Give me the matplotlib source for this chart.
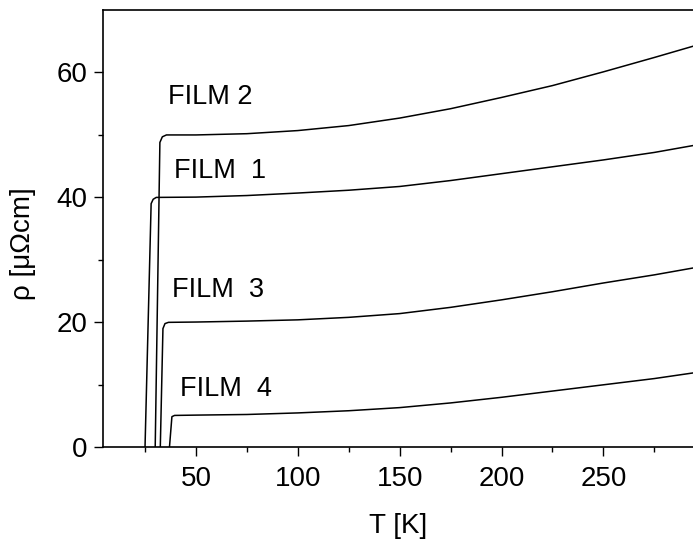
import matplotlib
matplotlib.use("Agg")
import matplotlib.pyplot as plt

plt.rcParams['font.family'] = ['Liberation Sans', 'DejaVu Sans']

# temperature [K] and resistivity [uOhm cm]
t_film1 = [25.0, 28.0, 29.0, 30.5, 50, 75, 100, 125, 150, 175, 200, 225, 250, 275, 294]
rho_film1 = [0, 39.0, 39.7, 40.0, 40.05, 40.3, 40.7, 41.15, 41.75, 42.7, 43.8, 44.9, 46.0, 47.2, 48.3]

t_film2 = [30.0, 32.3, 33.5, 35.5, 50, 75, 100, 125, 150, 175, 200, 225, 250, 275, 294]
rho_film2 = [0, 48.8, 49.7, 50.0, 50.0, 50.2, 50.7, 51.5, 52.7, 54.2, 56.0, 57.9, 60.1, 62.4, 64.2]

t_film3 = [32.5, 33.8, 34.8, 36.5, 50, 75, 100, 125, 150, 175, 200, 225, 250, 275, 294]
rho_film3 = [0, 19.0, 19.8, 20.0, 20.05, 20.2, 20.4, 20.8, 21.4, 22.4, 23.6, 24.9, 26.3, 27.6, 28.7]

t_film4 = [37.0, 38.2, 39.5, 50, 75, 100, 125, 150, 175, 200, 225, 250, 275, 294]
rho_film4 = [0, 4.9, 5.1, 5.15, 5.25, 5.5, 5.85, 6.35, 7.1, 8.0, 9.0, 10.0, 11.0, 11.9]

labels = ['FILM 2', 'FILM  1', 'FILM  3', 'FILM  4']
label_x = [36.5, 39.0, 38.2, 42.4]
label_y = [56.0, 44.3, 25.1, 9.3]

x_major = [50, 100, 150, 200, 250]
x_minor = [25, 75, 125, 175, 225, 275]
y_major = [0, 20, 40, 60]
y_minor = [10, 30, 50]

fig = plt.figure(figsize=(6.93, 5.47), dpi=100)
ax = fig.add_axes([0.149, 0.1823, 0.851, 0.7994])

for t, r in [(t_film1, rho_film1), (t_film2, rho_film2), (t_film3, rho_film3), (t_film4, rho_film4)]:
    ax.plot(t, r, color='black', lw=1.1)

for s, x, y in zip(labels, label_x, label_y):
    ax.text(x, y, s, fontsize=19.5, va='center', ha='left')

ax.set_xlim(4.5, 294)
ax.set_ylim(0, 70)
ax.set_xticks(x_major)
ax.set_xticks(x_minor, minor=True)
ax.set_yticks(y_major)
ax.set_yticks(y_minor, minor=True)

ax.tick_params(which='major', direction='out', length=6.5, width=1, labelsize=20, pad=5)
ax.tick_params(axis='x', which='major', pad=7)
ax.tick_params(which='minor', direction='out', length=3.5, width=1)
ax.spines['right'].set_visible(False)
for sp in ['left', 'bottom', 'top']:
    ax.spines[sp].set_linewidth(1.2)

ax.set_xlabel('T [K]', fontsize=20)
ax.set_ylabel('ρ [μΩcm]', fontsize=20)
ax.xaxis.set_label_coords(0.5, -0.150)
ax.yaxis.set_label_coords(-0.114, 0.466)

fig.savefig('out.png', dpi=100)
